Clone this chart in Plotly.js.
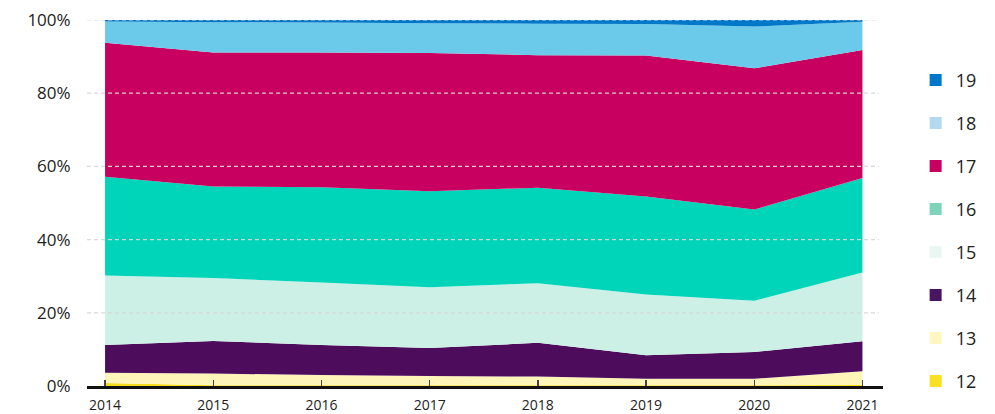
<!DOCTYPE html>
<html>
<head>
<meta charset="utf-8">
<script src="https://cdn.plot.ly/plotly-3.0.1.min.js"></script>
<style>
  html, body { margin: 0; padding: 0; background: #fff; }
  #chart { width: 995px; height: 414px; }
</style>
</head>
<body>
<div id="chart"></div>
<script>
// ---- Data (percent shares, stacked to 100%) ----
const years = [2014, 2015, 2016, 2017, 2018, 2019, 2020, 2021];
const seriesNames = ["12", "13", "14", "15", "16", "17", "18", "19"];
const s12 = [0.8, 0.2, 0.2, 0.2, 0.2, 0.2, 0.2, 0.3];
const s13 = [2.8, 3.2, 2.8, 2.5, 2.4, 1.8, 1.8, 3.7];
const s14 = [7.6, 8.9, 8.2, 7.7, 9.2, 6.4, 7.3, 8.2];
const s15 = [19.0, 17.2, 17.1, 16.6, 16.3, 16.6, 14.0, 18.8];
const s16 = [27.0, 25.0, 26.0, 26.2, 26.1, 26.8, 24.9, 25.8];
const s17 = [36.6, 36.6, 36.8, 37.8, 36.2, 38.5, 38.6, 35.0];
const s18 = [5.8, 8.3, 8.2, 8.1, 8.6, 8.6, 11.4, 7.7];
const s19 = [0.4, 0.6, 0.7, 0.9, 1.0, 1.1, 1.8, 0.5];
const yTickVals = [0, 20, 40, 60, 80, 100];
const yTickText = ["0%", "20%", "40%", "60%", "80%", "100%"];

// ---- Styles ----
const areaColors = ["#f7dc1b", "#fff5b8", "#4d0d5c", "#ccf0e6", "#00d4b9", "#c8005f", "#6bc9ea", "#0077c8"];
const legendColors = ["#fae022", "#fff6c0", "#4a1560", "#eaf6f1", "#7dd4b8", "#c8005f", "#b3d9f0", "#0077c8"];
const allSeries = [s12, s13, s14, s15, s16, s17, s18, s19];

const FONT = "Open Sans, Noto Sans, sans-serif";
const traces = [];
allSeries.forEach((vals, i) => {
  traces.push({
    type: "scatter", x: years, y: vals, stackgroup: "one",
    mode: "none", fillcolor: areaColors[i], name: seriesNames[i],
    showlegend: false, hoverinfo: "skip"
  });
});
// legend entries (top: 19 ... bottom: 12)
for (let i = seriesNames.length - 1; i >= 0; i--) {
  traces.push({
    type: "scatter", x: [null], y: [null], mode: "markers",
    name: seriesNames[i], legendgroup: "g" + i,
    marker: { symbol: "square", size: 12, color: legendColors[i] },
    hoverinfo: "skip"
  });
}

const gridShapes = yTickVals.filter(v => v > 0).map(v => ({
  type: "line", xref: "paper", x0: 0, x1: 0.995, yref: "y", y0: v, y1: v,
  line: { color: "rgba(215,215,215,0.95)", width: 1.2, dash: "4px,3px" },
  layer: "above"
}));

const layout = {
  width: 995, height: 414,
  margin: { l: 87, r: 112, t: 20, b: 28 },
  paper_bgcolor: "#fff", plot_bgcolor: "#fff",
  font: { family: FONT, color: "#222" },
  showlegend: true,
  legend: {
    x: 1.041, xanchor: "left", y: 0.886, yanchor: "top",
    font: { size: 18, family: FONT, color: "#222" },
    tracegroupgap: 16.6, itemclick: false
  },
  xaxis: {
    range: [2013.833, 2021.19], tickvals: years, ticktext: years.map(String),
    showgrid: false, zeroline: false,
    showline: true, linecolor: "#111", linewidth: 3,
    ticks: "inside", ticklen: 6, tickwidth: 1.5, tickcolor: "#444",
    ticklabelstandoff: 4,
    tickfont: { size: 14, family: FONT, color: "#222" },
    automargin: false, fixedrange: true
  },
  yaxis: {
    range: [0, 100], tickvals: yTickVals, ticktext: yTickText,
    showgrid: false, zeroline: false, showline: false,
    ticks: "outside", ticklen: 12, tickcolor: "rgba(0,0,0,0)",
    tickfont: { size: 17, family: FONT, color: "#222" },
    automargin: false, fixedrange: true
  },
  shapes: gridShapes
};

Plotly.newPlot("chart", traces, layout, { displayModeBar: false, staticPlot: true });
</script>
</body>
</html>
